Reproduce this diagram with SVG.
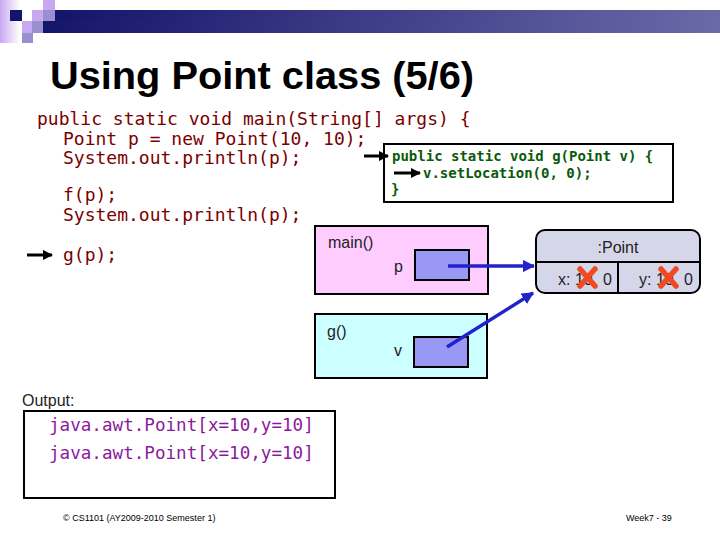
<svg xmlns="http://www.w3.org/2000/svg" width="720" height="540" viewBox="0 0 720 540">
<defs>
<linearGradient id="bar" x1="0" y1="0" x2="1" y2="0">
<stop offset="0" stop-color="#14146a"/>
<stop offset="1" stop-color="#6a6aa8"/>
</linearGradient>
<linearGradient id="strip" x1="0" y1="0" x2="1" y2="0">
<stop offset="0" stop-color="#c8a8f0"/>
<stop offset="1" stop-color="#ffffff"/>
</linearGradient>
<marker id="ab" viewBox="0 0 10 10" refX="9" refY="5" markerWidth="3.5" markerHeight="3.5" orient="auto">
<path d="M0,0 L10,5 L0,10 z" fill="#000"/>
</marker>
<marker id="abl" viewBox="0 0 10 10" refX="9" refY="5" markerWidth="3.5" markerHeight="3.5" orient="auto">
<path d="M0,0 L10,5 L0,10 z" fill="#2222cc"/>
</marker>
</defs>
<style>
.code{font-family:"DejaVu Sans Mono",monospace;font-size:18px;fill:#7a0000}
.gcode{font-family:"DejaVu Sans Mono",monospace;font-size:14px;font-weight:bold;fill:#0a5a0a}
.out{font-family:"DejaVu Sans Mono",monospace;font-size:17.6px;fill:#8b1a9b}
.lbl{font-family:"Liberation Sans",Arial,sans-serif;font-size:16px;fill:#222}
.foot{font-family:"Liberation Sans",Arial,sans-serif;font-size:9px;fill:#000}
.blk{stroke:#000;stroke-width:3;fill:none}
.blue{stroke:#2222cc;stroke-width:3.5;fill:none}
.cross{stroke:#f04a20;stroke-width:5.5;stroke-linecap:round}
</style>
<!-- header decoration -->
<g id="header">
<rect x="0" y="0" width="20" height="43" fill="url(#strip)"/>
<rect x="10" y="10" width="12" height="11" fill="#14146a"/>
<rect x="32" y="10" width="11" height="11" fill="#c8a8f0"/>
<rect x="43" y="0" width="12" height="10" fill="#c8a8f0"/>
<rect x="43" y="10" width="12" height="11" fill="#9a90d0"/>
<rect x="22" y="21" width="10" height="12" fill="#c8a8f0"/>
<rect x="32" y="21" width="11" height="12" fill="#9a90d0"/>
<rect x="22" y="33" width="11" height="10" fill="#9a90d0"/>
<rect x="43" y="21" width="677" height="12" fill="url(#bar)"/>
<rect x="55" y="10" width="665" height="11" fill="url(#bar)"/>
</g>
<text x="50" y="89" font-family="Liberation Sans,Arial,sans-serif" font-size="38" font-weight="bold" fill="#000" textLength="424" lengthAdjust="spacingAndGlyphs">Using Point class (5/6)</text>
<!-- code -->
<g id="code">
<text class="code" x="37" y="125">public static void main(String[] args) {</text>
<text class="code" x="63" y="145">Point p = new Point(10, 10);</text>
<text class="code" x="63" y="164">System.out.println(p);</text>
<text class="code" x="63" y="201">f(p);</text>
<text class="code" x="63" y="221">System.out.println(p);</text>
<text class="code" x="63" y="261">g(p);</text>
</g>
<!-- g method box -->
<g id="gbox">
<rect x="384" y="144" width="289" height="58" fill="#fff" stroke="#000" stroke-width="2"/>
<text class="gcode" x="392" y="161">public static void g(Point v) {</text>
<text class="gcode" x="423" y="178">v.setLocation(0, 0);</text>
<text class="gcode" x="391" y="194">}</text>
</g>
<!-- main frame -->
<g id="mainframe">
<rect x="315" y="226" width="173" height="68" fill="#ffccff" stroke="#000" stroke-width="2"/>
<text class="lbl" x="328" y="248">main()</text>
<text class="lbl" x="394" y="272">p</text>
<rect x="415" y="250" width="54" height="30" fill="#9999f5" stroke="#000" stroke-width="2"/>
</g>
<!-- g frame -->
<g id="gframe">
<rect x="315" y="314" width="172" height="64" fill="#ccffff" stroke="#000" stroke-width="2"/>
<text class="lbl" x="327" y="337">g()</text>
<text class="lbl" x="394" y="356">v</text>
<rect x="414" y="337" width="54" height="30" fill="#9999f5" stroke="#000" stroke-width="2"/>
</g>
<!-- Point object -->
<g id="point">
<rect x="536" y="230" width="164" height="63" rx="9" ry="9" fill="#d6d6ea" stroke="#000" stroke-width="2"/>
<line x1="536" y1="262" x2="700" y2="262" stroke="#000" stroke-width="2"/>
<line x1="618" y1="262" x2="618" y2="293" stroke="#000" stroke-width="2"/>
<text class="lbl" x="618" y="253" text-anchor="middle">:Point</text>
<text class="lbl" x="558" y="285">x: 10</text>
<text class="lbl" x="603" y="285">0</text>
<text class="lbl" x="639" y="285">y: 10</text>
<text class="lbl" x="684" y="285">0</text>
<path class="cross" d="M580,269 L595,286 M595,269 L580,286"/>
<path class="cross" d="M661,269 L676,286 M676,269 L661,286"/>
</g>
<!-- connectors -->
<g id="connectors">
<line class="blk" x1="27" y1="255" x2="52" y2="255" marker-end="url(#ab)"/>
<line class="blk" x1="364" y1="156" x2="388" y2="156" marker-end="url(#ab)"/>
<line class="blk" x1="394" y1="173" x2="420" y2="173" marker-end="url(#ab)"/>
<line class="blue" x1="448" y1="266" x2="534" y2="266" marker-end="url(#abl)"/>
<line class="blue" x1="447" y1="347" x2="533" y2="293" marker-end="url(#abl)"/>
</g>
<!-- output -->
<g id="output">
<text class="lbl" x="22" y="406" fill="#000">Output:</text>
<rect x="24" y="411" width="311" height="87" fill="#fff" stroke="#000" stroke-width="2"/>
<text class="out" x="49" y="431">java.awt.Point[x=10,y=10]</text>
<text class="out" x="49" y="459">java.awt.Point[x=10,y=10]</text>
</g>
<text class="foot" x="63" y="521">© CS1101 (AY2009-2010 Semester 1)</text>
<text class="foot" x="626" y="521">Week7 - 39</text>
</svg>
